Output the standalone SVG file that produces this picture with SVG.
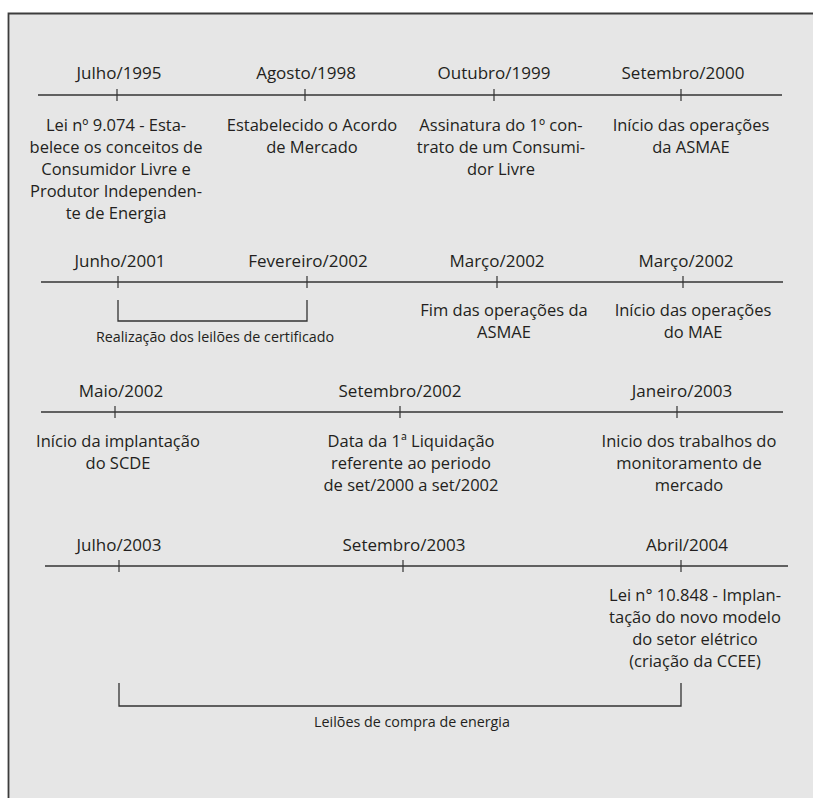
<svg xmlns="http://www.w3.org/2000/svg" width="813" height="798" viewBox="0 0 813 798">
  <style>
    .panel { fill: #e6e6e6; }
    .frame { fill: none; stroke: #3c3c3c; stroke-width: 1.8; }
    .axis { stroke: #333; stroke-width: 1.6; fill: none; }
    .tick { stroke: #333; stroke-width: 1.2; }
    .brace { stroke: #333; stroke-width: 1.3; fill: none; }
    text { font-family: "Open Sans", "Liberation Sans", sans-serif; fill: #231f20; text-anchor: middle; }
    .date { font-size: 17px; }
    .desc { font-size: 16.5px; }
    .note { font-size: 14.3px; }
  </style>

  <!-- background panel and its border -->
  <rect class="panel" x="8.5" y="13.5" width="806" height="786"/>
  <path class="frame" d="M8.5 799 V13.5 H814"/>

  <!-- timeline axes, ticks and range brackets -->
  <g id="connectors">
    <line class="axis" x1="38" y1="95" x2="782" y2="95"/>
    <line class="tick" x1="117" y1="89" x2="117" y2="101"/>
    <line class="tick" x1="305" y1="89" x2="305" y2="101"/>
    <line class="tick" x1="494" y1="89" x2="494" y2="101"/>
    <line class="tick" x1="681" y1="89" x2="681" y2="101"/>

    <line class="axis" x1="41" y1="282" x2="783" y2="282"/>
    <line class="tick" x1="118" y1="276" x2="118" y2="288"/>
    <line class="tick" x1="307" y1="276" x2="307" y2="288"/>
    <line class="tick" x1="497" y1="276" x2="497" y2="288"/>
    <line class="tick" x1="683" y1="276" x2="683" y2="288"/>
    <path class="brace" d="M118 300 V321 H307 V300"/>

    <line class="axis" x1="41" y1="412" x2="783" y2="412"/>
    <line class="tick" x1="115" y1="406" x2="115" y2="418"/>
    <line class="tick" x1="400" y1="406" x2="400" y2="418"/>
    <line class="tick" x1="677" y1="406" x2="677" y2="418"/>

    <line class="axis" x1="45" y1="566" x2="788" y2="566"/>
    <line class="tick" x1="119" y1="560" x2="119" y2="572"/>
    <line class="tick" x1="403" y1="560" x2="403" y2="572"/>
    <line class="tick" x1="681" y1="560" x2="681" y2="572"/>
    <path class="brace" d="M119 683 V706 H681 V683"/>
  </g>

  <!-- row 1 -->
  <g id="jul1995">
    <text class="date" x="119" y="79">Julho/1995</text>
    <text class="desc" x="116" y="131">Lei nº 9.074 - Esta-</text>
    <text class="desc" x="116" y="153">belece os conceitos de</text>
    <text class="desc" x="116" y="175">Consumidor Livre e</text>
    <text class="desc" x="116" y="197">Produtor Independen-</text>
    <text class="desc" x="116" y="219">te de Energia</text>
  </g>
  <g id="ago1998">
    <text class="date" x="306" y="79">Agosto/1998</text>
    <text class="desc" x="312" y="131">Estabelecido o Acordo</text>
    <text class="desc" x="312" y="153">de Mercado</text>
  </g>
  <g id="out1999">
    <text class="date" x="494" y="79">Outubro/1999</text>
    <text class="desc" x="501" y="131">Assinatura do 1º con-</text>
    <text class="desc" x="501" y="153">trato de um Consumi-</text>
    <text class="desc" x="501" y="175">dor Livre</text>
  </g>
  <g id="set2000">
    <text class="date" x="683" y="79">Setembro/2000</text>
    <text class="desc" x="691" y="131">Início das operações</text>
    <text class="desc" x="691" y="153">da ASMAE</text>
  </g>

  <!-- row 2 -->
  <g id="jun2001">
    <text class="date" x="120" y="267">Junho/2001</text>
  </g>
  <g id="fev2002">
    <text class="date" x="308" y="267">Fevereiro/2002</text>
  </g>
  <g id="leiloes-certificado">
    <text class="note" x="215" y="342">Realização dos leilões de certificado</text>
  </g>
  <g id="mar2002a">
    <text class="date" x="497" y="267">Março/2002</text>
    <text class="desc" x="504" y="316">Fim das operações da</text>
    <text class="desc" x="504" y="338">ASMAE</text>
  </g>
  <g id="mar2002b">
    <text class="date" x="686" y="267">Março/2002</text>
    <text class="desc" x="693" y="316">Início das operações</text>
    <text class="desc" x="693" y="338">do MAE</text>
  </g>

  <!-- row 3 -->
  <g id="mai2002">
    <text class="date" x="121" y="397">Maio/2002</text>
    <text class="desc" x="118" y="447">Início da implantação</text>
    <text class="desc" x="118" y="469">do SCDE</text>
  </g>
  <g id="set2002">
    <text class="date" x="400" y="397">Setembro/2002</text>
    <text class="desc" x="411" y="447">Data da 1ª Liquidação</text>
    <text class="desc" x="411" y="469">referente ao periodo</text>
    <text class="desc" x="411" y="491">de set/2000 a set/2002</text>
  </g>
  <g id="jan2003">
    <text class="date" x="682" y="397">Janeiro/2003</text>
    <text class="desc" x="689" y="447">Inicio dos trabalhos do</text>
    <text class="desc" x="689" y="469">monitoramento de</text>
    <text class="desc" x="689" y="491">mercado</text>
  </g>

  <!-- row 4 -->
  <g id="jul2003">
    <text class="date" x="119" y="551">Julho/2003</text>
  </g>
  <g id="set2003">
    <text class="date" x="404" y="551">Setembro/2003</text>
  </g>
  <g id="abr2004">
    <text class="date" x="687" y="551">Abril/2004</text>
    <text class="desc" x="695" y="601">Lei n° 10.848 - Implan-</text>
    <text class="desc" x="695" y="623">tação do novo modelo</text>
    <text class="desc" x="695" y="645">do setor elétrico</text>
    <text class="desc" x="695" y="667">(criação da CCEE)</text>
  </g>
  <g id="leiloes-energia">
    <text class="note" x="412" y="727">Leilões de compra de energia</text>
  </g>
</svg>
